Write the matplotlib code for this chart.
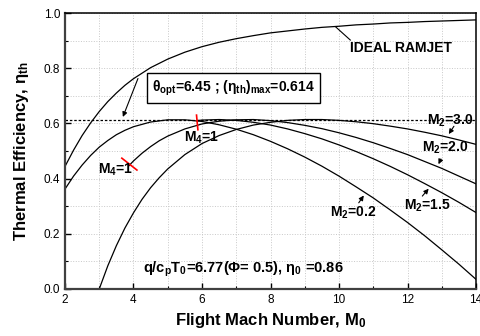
# Ramjet thermal efficiency vs flight Mach number
import matplotlib
matplotlib.use('Agg')
from matplotlib import pyplot as plt
from matplotlib.ticker import MultipleLocator, FormatStrFormatter

# bold sans look of the original (Origin export)
plt.rcParams['font.family'] = ['Liberation Sans', 'DejaVu Sans']
plt.rcParams['mathtext.fontset'] = 'custom'
plt.rcParams['mathtext.rm'] = 'Liberation Sans:bold'
plt.rcParams['mathtext.it'] = 'Liberation Sans:bold'
plt.rcParams['mathtext.bf'] = 'Liberation Sans:bold'
plt.rcParams['mathtext.default'] = 'rm'

# ----- data ----- #
mach_ideal = [2, 2.25, 2.5, 2.75, 3, 3.25, 3.5, 3.75, 4, 4.5, 5, 5.5, 6, 6.5, 7, 7.5,
              8, 8.5, 9, 9.5, 10, 10.5, 11, 11.5, 12, 12.5, 13, 13.5, 14]
eta_ideal = [0.444, 0.503, 0.556, 0.602, 0.643, 0.679, 0.710, 0.738, 0.762, 0.802, 0.833,
             0.858, 0.878, 0.894, 0.907, 0.918, 0.928, 0.935, 0.942, 0.948, 0.952, 0.957,
             0.960, 0.964, 0.966, 0.969, 0.971, 0.973, 0.975]

mach_m02 = mach_ideal
eta_m02 = [0.362, 0.409, 0.449, 0.484, 0.514, 0.538, 0.559, 0.575, 0.588, 0.605, 0.613,
           0.613, 0.607, 0.595, 0.579, 0.559, 0.535, 0.508, 0.478, 0.445, 0.409, 0.370,
           0.330, 0.286, 0.241, 0.193, 0.142, 0.090, 0.035]

mach_m15 = [5.85, 6, 6.5, 7, 7.5, 8, 8.5, 9, 9.5, 10, 10.5, 11, 11.5, 12, 12.5, 13, 13.5, 14]
eta_m15 = [0.610, 0.612, 0.614, 0.611, 0.604, 0.594, 0.580, 0.563, 0.544, 0.522, 0.498,
           0.472, 0.444, 0.414, 0.382, 0.349, 0.314, 0.277]

mach_m20 = [3.87, 4, 4.25, 4.5, 4.75, 5, 5.5, 6, 6.5, 7, 7.5, 8, 8.5, 9, 9.5, 10, 10.5,
            11, 11.5, 12, 12.5, 13, 13.5, 14]
eta_m20 = [0.447, 0.464, 0.492, 0.516, 0.537, 0.554, 0.580, 0.598, 0.608, 0.613, 0.614,
           0.610, 0.603, 0.593, 0.581, 0.566, 0.549, 0.530, 0.509, 0.487, 0.462, 0.437,
           0.409, 0.381]

mach_m30 = [3, 3.25, 3.5, 3.75, 4, 4.25, 4.5, 4.75, 5, 5.5, 6, 6.5, 7, 7.5, 8, 8.5, 9,
            9.5, 10, 10.5, 11, 11.5, 12, 12.5, 13, 13.5, 14]
eta_m30 = [0.0, 0.084, 0.157, 0.221, 0.276, 0.325, 0.367, 0.403, 0.435, 0.487, 0.527,
           0.556, 0.578, 0.594, 0.604, 0.611, 0.614, 0.614, 0.611, 0.606, 0.599, 0.590,
           0.580, 0.568, 0.555, 0.540, 0.524]

eta_max = 0.614

# ----- figure ----- #
fig = plt.figure(figsize=(4.8, 3.36), dpi=100)
ax = fig.add_axes([0.1354, 0.1399, 0.8563, 0.8214])

ax.set_xlim(2, 14)
ax.set_ylim(0, 1.0)
ax.xaxis.set_major_locator(MultipleLocator(2))
ax.xaxis.set_minor_locator(MultipleLocator(1))
ax.yaxis.set_major_locator(MultipleLocator(0.2))
ax.yaxis.set_minor_locator(MultipleLocator(0.1))
ax.yaxis.set_major_formatter(FormatStrFormatter('%.1f'))
ax.grid(which='both', color='#c8c8c8', linestyle=':', linewidth=0.7)
ax.set_axisbelow(True)
ax.tick_params(which='both', direction='in', top=False, right=False)
ax.tick_params(which='major', length=4, width=1, labelsize=8.5)
ax.tick_params(which='minor', length=2, width=0.8)
for side in ['left', 'bottom']:
    ax.spines[side].set_linewidth(1.6)
    ax.spines[side].set_color('#404040')
for side in ['top', 'right']:
    ax.spines[side].set_linewidth(1.1)

# curves
lw = 0.9
ax.plot(mach_ideal, eta_ideal, color='k', lw=lw)
ax.plot(mach_m02, eta_m02, color='k', lw=lw)
ax.plot(mach_m15, eta_m15, color='k', lw=lw)
ax.plot(mach_m20, eta_m20, color='k', lw=lw)
ax.plot(mach_m30, eta_m30, color='k', lw=lw)
ax.axhline(eta_max, color='k', lw=0.9, linestyle=(0, (2, 1.5)))

# red marks for thermal choking M4=1
ax.plot([3.66, 4.10], [0.474, 0.431], color='red', lw=1.2)
ax.plot([5.84, 5.88], [0.630, 0.577], color='red', lw=1.2)

bold = dict(fontweight='bold', color='k')
ax.text(2.97, 0.419, r'M$_4$=1', fontsize=10, ha='left', va='baseline', **bold)
ax.text(5.46, 0.534, r'M$_4$=1', fontsize=10, ha='left', va='baseline', **bold)

# ideal ramjet label with leader line
ax.text(11.82, 0.875, 'IDEAL RAMJET', fontsize=10, ha='center', va='center', **bold)
ax.plot([9.9, 10.33], [0.950, 0.902], color='k', lw=0.8)

# optimum box
ax.annotate('', xy=(3.66, eta_max), xytext=(4.16, 0.772),
            arrowprops=dict(arrowstyle='-|>', color='k', lw=0.8, mutation_scale=7))
ax.text(6.92, 0.727, r'$\theta_{opt}$=6.45 ; ($\eta_{th}$)$_{max}$=0.614', fontsize=10,
        ha='center', va='center',
        bbox=dict(boxstyle='square,pad=0.38', fc='white', ec='k', lw=1), **bold)

# M2 labels with arrows
arrow = dict(arrowstyle='-|>', color='k', lw=0.8, mutation_scale=7)
ax.text(12.57, 0.594, r'M$_2$=3.0', fontsize=10, ha='left', va='baseline', **bold)
ax.annotate('', xy=(13.16, 0.553), xytext=(13.40, 0.598), arrowprops=arrow)
ax.text(12.43, 0.498, r'M$_2$=2.0', fontsize=10, ha='left', va='baseline', **bold)
ax.annotate('', xy=(12.87, 0.443), xytext=(13.01, 0.48), arrowprops=arrow)
ax.text(11.89, 0.286, r'M$_2$=1.5', fontsize=10, ha='left', va='baseline', **bold)
ax.annotate('', xy=(12.67, 0.371), xytext=(12.38, 0.329), arrowprops=arrow)
ax.text(9.75, 0.262, r'M$_2$=0.2', fontsize=10, ha='left', va='baseline', **bold)
ax.annotate('', xy=(10.77, 0.347), xytext=(10.53, 0.304), arrowprops=arrow)

# conditions
ax.text(4.29, 0.058, r'q/c$_p$T$_0$=6.77($\Phi$= 0.5), $\eta_0$ =0.86', fontsize=10.5,
        ha='left', va='baseline', **bold)

ax.set_xlabel(r'Flight Mach Number, M$_0$', fontsize=12, fontweight='bold', labelpad=4)
ax.set_ylabel(r'Thermal Efficiency, $\eta_{th}$', fontsize=12, fontweight='bold', labelpad=9)

fig.savefig('out.png', dpi=100)
